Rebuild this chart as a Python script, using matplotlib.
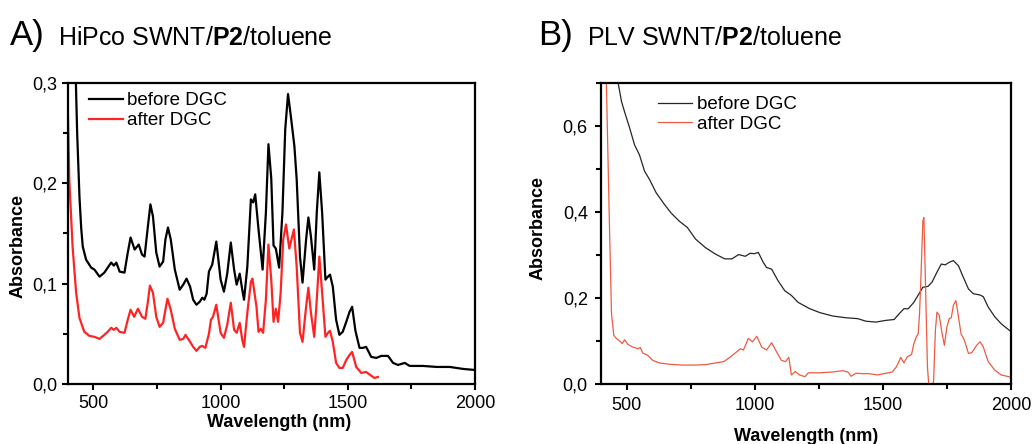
import matplotlib
matplotlib.use("Agg")
import matplotlib.pyplot as plt
from matplotlib.ticker import MultipleLocator, FuncFormatter

plt.rcParams['font.family'] = ['Liberation Sans', 'DejaVu Sans']
plt.rcParams['mathtext.fontset'] = 'custom'
plt.rcParams['mathtext.rm'] = 'Liberation Sans'
plt.rcParams['mathtext.bf'] = 'Liberation Sans:bold'

# ---------------- Panel A data (HiPco SWNT/P2/toluene) ----------------
a_before_nm = [400, 420, 430, 436, 445, 452, 458, 471, 491, 504, 524, 543, 556, 570, 580, 590, 603, 622,
               635, 646, 662, 678, 691, 701, 714, 724, 734, 747, 760, 774, 783, 793, 804, 820, 839, 853,
               866, 880, 892, 905, 918, 928, 936, 945, 954, 967, 983, 1000, 1013, 1026, 1040, 1053, 1063,
               1075, 1085, 1092, 1105, 1119, 1128, 1136, 1149, 1165, 1178, 1188, 1199, 1208, 1217, 1230,
               1243, 1254, 1265, 1276, 1290, 1299, 1312, 1322, 1336, 1345, 1355, 1368, 1378, 1388, 1399,
               1412, 1422, 1430, 1441, 1454, 1467, 1480, 1494, 1507, 1517, 1530, 1546, 1559, 1572, 1592,
               1612, 1632, 1658, 1678, 1697, 1724, 1743, 1796, 1849, 1901, 1954, 2000]
a_before_abs = [0.60, 0.40, 0.31, 0.25, 0.187, 0.155, 0.137, 0.124, 0.116, 0.114, 0.107, 0.111, 0.116, 0.121,
                0.118, 0.121, 0.112, 0.111, 0.131, 0.146, 0.134, 0.139, 0.129, 0.127, 0.157, 0.179, 0.167,
                0.131, 0.117, 0.122, 0.144, 0.156, 0.144, 0.114, 0.094, 0.099, 0.105, 0.097, 0.084, 0.079,
                0.082, 0.086, 0.084, 0.090, 0.112, 0.119, 0.142, 0.104, 0.092, 0.110, 0.141, 0.114, 0.099,
                0.110, 0.094, 0.084, 0.117, 0.184, 0.181, 0.189, 0.154, 0.114, 0.171, 0.239, 0.205, 0.138,
                0.135, 0.116, 0.171, 0.254, 0.289, 0.267, 0.237, 0.204, 0.127, 0.101, 0.144, 0.166, 0.147,
                0.114, 0.171, 0.211, 0.171, 0.104, 0.107, 0.109, 0.097, 0.064, 0.049, 0.052, 0.062, 0.072,
                0.077, 0.053, 0.036, 0.036, 0.037, 0.027, 0.026, 0.028, 0.028, 0.021, 0.019, 0.021, 0.018,
                0.018, 0.017, 0.017, 0.015, 0.014]

a_after_nm = [400, 405, 418, 432, 445, 464, 484, 504, 524, 543, 556, 570, 580, 590, 603, 622, 635, 646, 660,
              675, 691, 704, 714, 722, 734, 747, 760, 774, 783, 791, 804, 820, 839, 853, 862, 880, 892, 905,
              918, 928, 940, 954, 962, 970, 983, 1000, 1013, 1026, 1040, 1053, 1063, 1075, 1085, 1092, 1105,
              1119, 1125, 1141, 1149, 1158, 1167, 1178, 1188, 1199, 1208, 1217, 1226, 1236, 1246, 1257,
              1270, 1288, 1299, 1312, 1322, 1336, 1345, 1355, 1368, 1378, 1388, 1399, 1412, 1422, 1430,
              1441, 1454, 1467, 1480, 1494, 1507, 1517, 1533, 1553, 1572, 1588, 1605, 1618]
a_after_abs = [0.266, 0.204, 0.137, 0.091, 0.066, 0.052, 0.048, 0.047, 0.045, 0.049, 0.052, 0.056, 0.054,
               0.056, 0.052, 0.051, 0.064, 0.074, 0.067, 0.075, 0.067, 0.065, 0.082, 0.098, 0.091, 0.067,
               0.057, 0.061, 0.074, 0.085, 0.074, 0.055, 0.044, 0.045, 0.049, 0.042, 0.037, 0.033, 0.037,
               0.038, 0.036, 0.050, 0.064, 0.067, 0.079, 0.051, 0.046, 0.059, 0.081, 0.054, 0.051, 0.061,
               0.044, 0.037, 0.071, 0.102, 0.105, 0.077, 0.052, 0.055, 0.051, 0.084, 0.139, 0.104, 0.062,
               0.075, 0.062, 0.091, 0.144, 0.159, 0.135, 0.154, 0.117, 0.051, 0.042, 0.077, 0.096, 0.071,
               0.047, 0.084, 0.127, 0.091, 0.047, 0.051, 0.053, 0.042, 0.021, 0.016, 0.016, 0.024, 0.029,
               0.032, 0.017, 0.011, 0.012, 0.009, 0.006, 0.007]

# ---------------- Panel B data (PLV SWNT/P2/toluene) ----------------
b_before_nm = [440, 466, 480, 492, 512, 531, 550, 570, 589, 615, 647, 673, 705, 737, 769, 808, 847, 883, 911,
               937, 963, 982, 998, 1014, 1033, 1046, 1066, 1091, 1117, 1143, 1169, 1190, 1215, 1254, 1305,
               1357, 1402, 1434, 1473, 1512, 1544, 1563, 1582, 1599, 1621, 1640, 1656, 1676, 1692, 1711,
               1728, 1743, 1759, 1775, 1795, 1814, 1834, 1853, 1879, 1892, 1911, 1937, 1962, 1991, 2000]
b_before_abs = [0.85, 0.703, 0.657, 0.633, 0.595, 0.556, 0.533, 0.495, 0.476, 0.445, 0.418, 0.398, 0.379,
                0.364, 0.337, 0.317, 0.302, 0.291, 0.291, 0.301, 0.297, 0.304, 0.303, 0.306, 0.283, 0.271,
                0.267, 0.240, 0.217, 0.206, 0.190, 0.183, 0.175, 0.166, 0.158, 0.154, 0.152, 0.146, 0.144,
                0.148, 0.150, 0.163, 0.175, 0.175, 0.190, 0.209, 0.225, 0.227, 0.237, 0.260, 0.279, 0.277,
                0.283, 0.287, 0.275, 0.248, 0.221, 0.210, 0.207, 0.203, 0.179, 0.156, 0.140, 0.126, 0.122]

b_after_nm = [410, 421, 432, 441, 450, 460, 469, 483, 492, 505, 524, 544, 553, 563, 582, 602, 628, 666, 718,
              769, 808, 847, 879, 905, 930, 943, 956, 975, 991, 1008, 1027, 1046, 1066, 1085, 1104, 1120,
              1133, 1143, 1158, 1175, 1196, 1209, 1254, 1305, 1344, 1363, 1376, 1395, 1421, 1447, 1479,
              1512, 1537, 1553, 1570, 1582, 1595, 1612, 1621, 1630, 1638, 1643, 1648, 1656, 1660, 1663,
              1669, 1674, 1680, 1692, 1698, 1705, 1711, 1720, 1730, 1740, 1750, 1759, 1767, 1775, 1785,
              1795, 1805, 1818, 1834, 1847, 1866, 1879, 1892, 1911, 1937, 1962, 1991, 2000]
b_after_abs = [1.0, 0.70, 0.395, 0.163, 0.113, 0.106, 0.102, 0.094, 0.103, 0.092, 0.086, 0.082, 0.085, 0.072,
               0.067, 0.055, 0.049, 0.046, 0.044, 0.044, 0.045, 0.049, 0.052, 0.063, 0.075, 0.082, 0.079,
               0.106, 0.098, 0.111, 0.086, 0.079, 0.096, 0.075, 0.055, 0.052, 0.062, 0.021, 0.029, 0.021,
               0.017, 0.026, 0.026, 0.028, 0.031, 0.028, 0.018, 0.025, 0.024, 0.024, 0.021, 0.025, 0.028,
               0.040, 0.062, 0.049, 0.063, 0.069, 0.094, 0.109, 0.117, 0.163, 0.240, 0.379, 0.387, 0.317,
               0.163, 0.040, -0.01, -0.02, 0.009, 0.125, 0.167, 0.160, 0.121, 0.090, 0.133, 0.152, 0.154,
               0.183, 0.194, 0.156, 0.117, 0.102, 0.071, 0.073, 0.090, 0.098, 0.086, 0.052, 0.032, 0.021,
               0.017, 0.015]

series_labels = ["before DGC", "after DGC"]

W, H = 1033, 444
fig = plt.figure(figsize=(W / 100, H / 100), dpi=100)

def frac(x0, y0, x1, y1):
    return [x0 / W, (H - y1) / H, (x1 - x0) / W, (y1 - y0) / H]

axA = fig.add_axes(frac(68, 83, 475, 384))
axB = fig.add_axes(frac(601, 83, 1011, 384))

comma = FuncFormatter(lambda v, p: f"{v:.1f}".replace('.', ','))

axA.plot(a_before_nm, a_before_abs, color='black', lw=1.6, label=series_labels[0])
axA.plot(a_after_nm, a_after_abs, color='#ff2424', lw=1.6, label=series_labels[1])
axA.set_xlim(400, 2000)
axA.set_ylim(0, 0.3)
axA.xaxis.set_major_locator(MultipleLocator(500))
axA.xaxis.set_minor_locator(MultipleLocator(250))
axA.yaxis.set_major_locator(MultipleLocator(0.1))
axA.yaxis.set_minor_locator(MultipleLocator(0.05))
axA.yaxis.set_major_formatter(comma)

axB.plot(b_before_nm, b_before_abs, color='#262626', lw=0.9, label=series_labels[0])
axB.plot(b_after_nm, b_after_abs, color='#f05a40', lw=0.9, label=series_labels[1])
axB.set_xlim(400, 2000)
axB.set_ylim(0, 0.7)
axB.xaxis.set_major_locator(MultipleLocator(500))
axB.xaxis.set_minor_locator(MultipleLocator(250))
axB.yaxis.set_major_locator(MultipleLocator(0.2))
axB.yaxis.set_minor_locator(MultipleLocator(0.1))
axB.yaxis.set_major_formatter(comma)

for ax in (axA, axB):
    for s in ax.spines.values():
        s.set_linewidth(1.6)
    ax.tick_params(which='major', direction='out', length=4.5, width=1.5, labelsize=13, pad=3.5,
                   top=False, right=False)
    ax.tick_params(which='minor', direction='out', length=3.5, width=1.5, top=False, right=False)
    ax.set_xlabel("Wavelength (nm)", fontsize=13, fontweight='bold', va='center')
    ax.set_ylabel("Absorbance", fontsize=13, fontweight='bold', va='center')

axA.xaxis.set_label_coords(0.518, -0.128)
axA.yaxis.set_label_coords(-0.122, 0.458)
axB.xaxis.set_label_coords(0.5, -0.173)
axB.yaxis.set_label_coords(-0.153, 0.518)
axB.tick_params(which='major', pad=5)

axA.legend(loc='upper left', bbox_to_anchor=(0.0516, 0.970), frameon=False, fontsize=13.5,
           borderpad=0, borderaxespad=0, handlelength=1.8, handletextpad=0.25, labelspacing=0.15)
axB.legend(loc='upper left', bbox_to_anchor=(0.139, 0.957), frameon=False, fontsize=13.5,
           borderpad=0, borderaxespad=0, handlelength=1.8, handletextpad=0.3, labelspacing=0.15)

base = (H - 45) / H
fig.text(10 / W, base, "A)", fontsize=25, va='baseline', ha='left')
fig.text(58 / W, base, r"HiPco SWNT/$\mathbf{P2}$/toluene", fontsize=18, va='baseline', ha='left')
fig.text(538 / W, base, "B)", fontsize=25, va='baseline', ha='left')
fig.text(587 / W, base, r"PLV SWNT/$\mathbf{P2}$/toluene", fontsize=18, va='baseline', ha='left')

fig.savefig("out.png", dpi=100)
